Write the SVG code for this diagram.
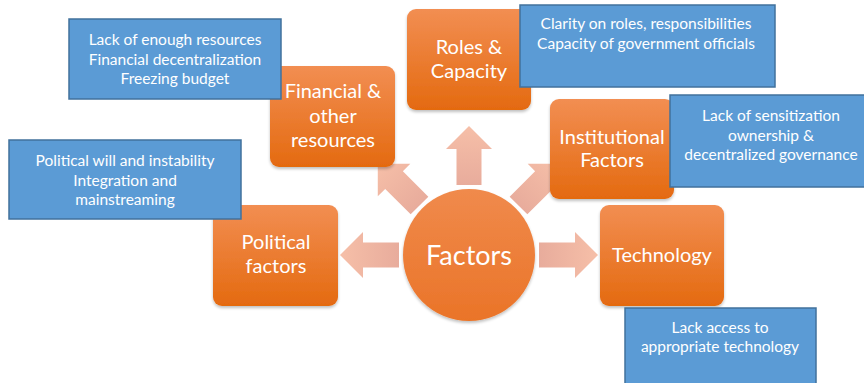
<svg xmlns="http://www.w3.org/2000/svg" width="864" height="383" viewBox="0 0 864 383">
<defs>
<linearGradient id="og" x1="0" y1="0" x2="0" y2="1">
<stop offset="0" stop-color="#F28E52"/>
<stop offset="1" stop-color="#E46A10"/>
</linearGradient>
<linearGradient id="cg" x1="0" y1="0" x2="0" y2="1">
<stop offset="0" stop-color="#F08A4C"/>
<stop offset="1" stop-color="#EA7428"/>
</linearGradient>
<linearGradient id="ag" x1="0" y1="0" x2="1" y2="0">
<stop offset="0" stop-color="#E8AC9C"/>
<stop offset="1" stop-color="#F6BFA8"/>
</linearGradient>
<filter id="sh" x="-10%" y="-10%" width="120%" height="130%">
<feGaussianBlur in="SourceAlpha" stdDeviation="1.5"/>
<feOffset dy="1.5"/>
<feComponentTransfer><feFuncA type="linear" slope="0.25"/></feComponentTransfer>
<feMerge><feMergeNode/><feMergeNode in="SourceGraphic"/></feMerge>
</filter>
<path id="arr" d="M70,-12.5 L106,-12.5 L106,-23 L129,0 L106,23 L106,12.5 L70,12.5 Z"/>
</defs>
<style>
.ob{fill:url(#og);filter:url(#sh)}
.bb{fill:#5B9BD5;stroke:#41719C;stroke-width:1.5}
.ot{font-family:Lato,"Open Sans",sans-serif;font-size:20px;fill:#FFFFFF;text-anchor:middle}
.bt{font-family:Lato,"Open Sans",sans-serif;font-size:15.5px;fill:#FFFFFF;text-anchor:middle}
.ar{fill:url(#ag)}
</style>
<rect width="864" height="383" fill="#FFFFFF"/>
<g id="connectors" transform="translate(469,255)">
<use href="#arr" class="ar" transform="rotate(180)"/>
<use href="#arr" class="ar" transform="rotate(225)"/>
<use href="#arr" class="ar" transform="rotate(270)"/>
<use href="#arr" class="ar" transform="rotate(315)"/>
<use href="#arr" class="ar" transform="rotate(0)"/>
</g>
<g id="factors">
<circle cx="469" cy="255" r="66" fill="url(#cg)" filter="url(#sh)"/>
<text class="ot" x="469" y="264.5" style="font-size:27px">Factors</text>
</g>
<g id="financial">
<rect class="ob" x="270" y="66" width="125" height="101" rx="9"/>
<text class="ot" x="333" y="98">Financial &amp;</text>
<text class="ot" x="333" y="122.5">other</text>
<text class="ot" x="333" y="147">resources</text>
</g>
<g id="roles">
<rect class="ob" x="407" y="9" width="124" height="101" rx="9"/>
<text class="ot" x="469" y="54">Roles &amp;</text>
<text class="ot" x="469" y="78">Capacity</text>
</g>
<g id="institutional">
<rect class="ob" x="550" y="99" width="124" height="100" rx="9"/>
<text class="ot" x="612" y="144">Institutional</text>
<text class="ot" x="612" y="167">Factors</text>
</g>
<g id="political">
<rect class="ob" x="213" y="205" width="125" height="101" rx="9"/>
<text class="ot" x="276" y="249">Political</text>
<text class="ot" x="276" y="273">factors</text>
</g>
<g id="technology">
<rect class="ob" x="600" y="205" width="124" height="101" rx="9"/>
<text class="ot" x="662" y="262">Technology</text>
</g>
<g id="financial-notes">
<rect class="bb" x="69" y="19" width="212" height="80"/>
<text class="bt" x="175" y="44.5">Lack of enough resources</text>
<text class="bt" x="175" y="64.5">Financial decentralization</text>
<text class="bt" x="175" y="83.5">Freezing budget</text>
</g>
<g id="political-notes">
<rect class="bb" x="9" y="140" width="232" height="79"/>
<text class="bt" x="125" y="165.5">Political will and instability</text>
<text class="bt" x="125" y="185.5">Integration and</text>
<text class="bt" x="125" y="204.5">mainstreaming</text>
</g>
<g id="roles-notes">
<rect class="bb" x="520" y="5" width="255" height="82"/>
<text class="bt" x="646" y="28.5">Clarity on roles, responsibilities</text>
<text class="bt" x="646" y="48.5">Capacity of government officials</text>
</g>
<g id="institutional-notes">
<rect class="bb" x="670" y="95" width="200" height="92"/>
<text class="bt" x="771" y="120.5">Lack of sensitization</text>
<text class="bt" x="771" y="140.5">ownership &amp;</text>
<text class="bt" x="771" y="159.5">decentralized governance</text>
</g>
<g id="technology-notes">
<rect class="bb" x="625" y="308" width="191" height="80"/>
<text class="bt" x="720" y="332.5">Lack access to</text>
<text class="bt" x="720" y="351.5">appropriate technology</text>
</g>
</svg>
